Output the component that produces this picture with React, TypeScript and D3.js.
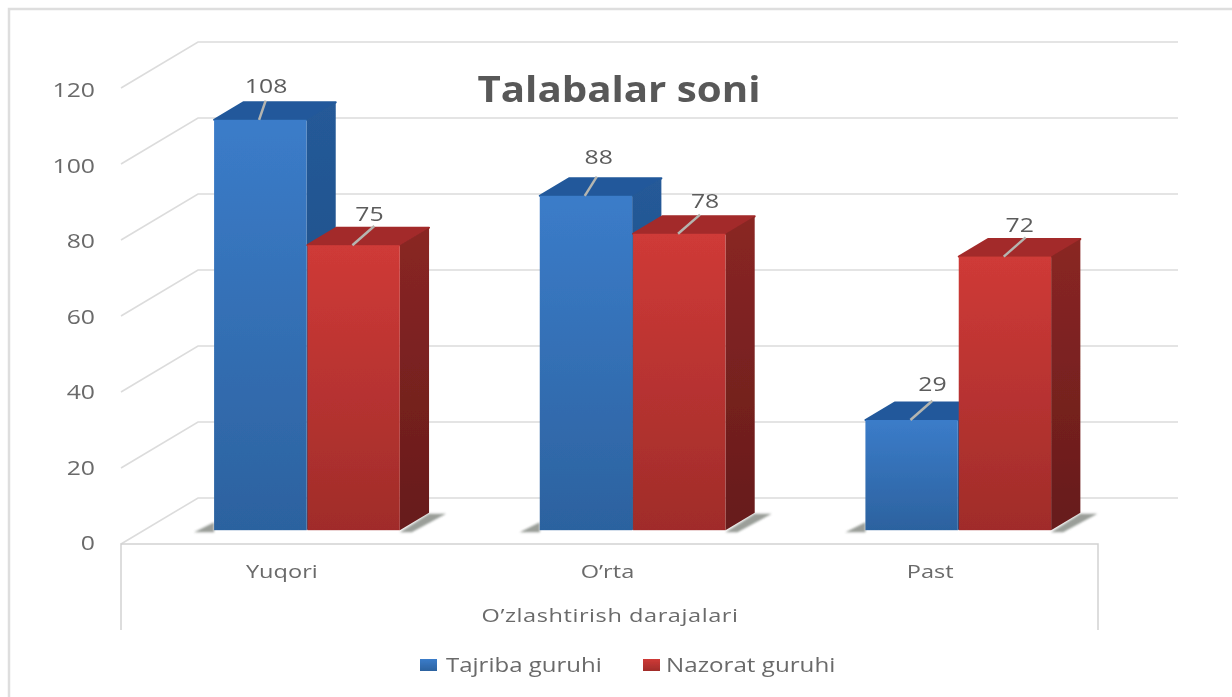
import React from 'react'
import { scaleBand, scaleLinear, line } from 'd3'

const categories = ['Yuqori', 'O’rta', 'Past']
const seriesNames = ['Tajriba guruhi', 'Nazorat guruhi']
const tajriba = [108, 88, 29]
const nazorat = [75, 78, 72]
const yTicks = [0, 20, 40, 60, 80, 100, 120]

// hand placed data labels and their leader lines, the chart sets these per point
const tajribaLabelDx = [52, 59, 67]
const tajribaLabelDy = [-27, -32, -29]
const tajribaLean = [0.3, 0.55, 1]
const nazoratLabelDx = [62, 72, 61]
const nazoratLabelDy = [-24, -26, -25]
const nazoratLean = [1, 1, 1]
const categoryNudge = [-2, -2, -5]

const W = 1232
const H = 697
const depthX = 77
const depthY = -46
// bars stand a bit into the floor
const barT0 = 0.3
const barT1 = 0.68

const y = scaleLinear().domain([0, 120]).range([544, 88])
const yLabel = scaleLinear().domain([0, 120]).range([550, 97])
const x0 = scaleBand().domain(categories).range([121, 1098])
const x1 = scaleBand().domain(['a', 'b']).range([0, x0.bandwidth()]).paddingInner(0.01).paddingOuter(0.75)

const lineGen = line()
const gridColor = '#dcdcdc'
const textColor = '#6a6a6a'
const font = '"Open Sans", sans-serif'

const pts = (p: number[][]) => lineGen(p as [number, number][]) + 'Z'

const barBox = (cat: string, key: string, value: number) => {
    const left = x0(cat)! + x1(key)! + depthX * barT0
    const right = left + x1.bandwidth()
    const base = y(0) + depthY * barT0
    const top = base - (y(0) - y(value))
    return { left, right, base, top, dx: depthX * (barT1 - barT0), dy: depthY * (barT1 - barT0) }
}

// wide looking text, the source picture is stretched sideways
const Wide = ({ x, y, size, anchor = 'middle', fill = textColor, sx = 1.24, spacing = 0, children }: any) => (
    <text transform={`translate(${x},${y}) scale(${sx},1)`} textAnchor={anchor} fontSize={size} letterSpacing={spacing} fontFamily={font} fill={fill}>{children}</text>
)

const Bar = ({ cat, k, value, kind, labelDx, labelDy, lean }: any) => {
    const { left, right, base, top, dx, dy } = barBox(cat, k, value)
    const dark = kind === 'blue' ? '#21599b' : '#a32a2a'
    const topFace = pts([[left, top], [left + dx, top + dy], [right + dx, top + dy], [right, top]])
    return (
        <g>
            <path d={topFace} fill={dark} stroke={dark} strokeWidth={2} strokeLinejoin="round" />
            <path d={pts([[right, top], [right + dx, top + dy], [right + dx, base + dy], [right, base]])} fill={`url(#side-${kind})`} />
            <rect x={left} y={top} width={right - left} height={base - top} fill={`url(#front-${kind})`} />
            <path d={lineGen([[left + 45, top], [left + 45 + dx * 0.75 * lean, top + dy * 1.1]] as [number, number][])!} stroke="#b5b5b0" strokeWidth={2.5} />
            <Wide x={left + labelDx} y={top + labelDy} size={20} fill="#5c5c5c">{value}</Wide>
        </g>
    )
}

const Shadow = ({ cat }: any) => {
    const a = barBox(cat, 'a', 0)
    const b = barBox(cat, 'b', 0)
    return (
        <g fill="#6f766e" opacity={0.7} filter="url(#softer)">
            <path d={pts([[a.left - 20, a.base + 2], [a.left, a.base + 2], [a.left, a.base - 8]])} />
            <path d={pts([[b.right, b.base + 2], [b.right + 12, b.base + 2], [b.right + b.dx + 17, b.base + b.dy + 1], [b.right + b.dx, b.base + b.dy + 1]])} />
        </g>
    )
}

const App = () => {
    return (
        <svg width={W} height={H} style={{ position: 'absolute', left: 0, top: 0, background: '#fff' }}>
            <defs>
                <filter id="soft"><feGaussianBlur stdDeviation="0.6" /></filter>
                <filter id="softer"><feGaussianBlur stdDeviation="1.2" /></filter>
                <linearGradient id="front-blue" x1="0" y1="0" x2="0" y2="1">
                    <stop offset="0" stopColor="#3b7cc9" />
                    <stop offset="1" stopColor="#2c629f" />
                </linearGradient>
                <linearGradient id="front-red" x1="0" y1="0" x2="0" y2="1">
                    <stop offset="0" stopColor="#cf3a37" />
                    <stop offset="1" stopColor="#a02c2a" />
                </linearGradient>
                <linearGradient id="side-blue" x1="0" y1="0" x2="0" y2="1">
                    <stop offset="0" stopColor="#255a98" />
                    <stop offset="1" stopColor="#1c4a80" />
                </linearGradient>
                <linearGradient id="side-red" x1="0" y1="0" x2="0" y2="1">
                    <stop offset="0" stopColor="#8a2624" />
                    <stop offset="1" stopColor="#661c1b" />
                </linearGradient>
            </defs>
            <g filter="url(#soft)">
                <path d={`M${W},9H9V${H}`} fill="none" stroke="#dedede" strokeWidth={2.5} />

                {yTicks.map(t => (
                    <g key={t}>
                        <path d={`M121,${y(t)}L${121 + depthX},${y(t) + depthY}H1178`} fill="none" stroke={gridColor} strokeWidth={1.6} />
                        <Wide x={95} y={yLabel(t)} size={20} anchor="end">{t}</Wide>
                    </g>
                ))}

                <path d={`M121,630V${y(0)}H1098V630`} fill="none" stroke="#d2d2d2" strokeWidth={1.5} />

                {categories.map(c => <Shadow key={c} cat={c} />)}

                {categories.map((c, i) => (
                    <g key={c}>
                        <Bar cat={c} k="a" value={tajriba[i]} kind="blue" labelDx={tajribaLabelDx[i]} labelDy={tajribaLabelDy[i]} lean={tajribaLean[i]} />
                        <Bar cat={c} k="b" value={nazorat[i]} kind="red" labelDx={nazoratLabelDx[i]} labelDy={nazoratLabelDy[i]} lean={nazoratLean[i]} />
                        <Wide x={x0(c)! + x0.bandwidth() / 2 + categoryNudge[i]} y={578} size={19}>{c}</Wide>
                    </g>
                ))}

                <Wide x={610} y={622} size={19} spacing={0.45}>O’zlashtirish darajalari</Wide>
                <text x={619} y={102} textAnchor="middle" fontSize={35} fontWeight={700} fontFamily={font} fill="#595959" textLength={283} lengthAdjust="spacingAndGlyphs">Talabalar soni</text>

                <rect x={420} y={659} width={17} height={12} fill="url(#front-blue)" />
                <Wide x={446} y={672} size={20} sx={1.2} anchor="start">{seriesNames[0]}</Wide>
                <rect x={643} y={659} width={17} height={12} fill="url(#front-red)" />
                <Wide x={666} y={672} size={20} sx={1.21} anchor="start">{seriesNames[1]}</Wide>
            </g>
        </svg>
    )
}

export default App
